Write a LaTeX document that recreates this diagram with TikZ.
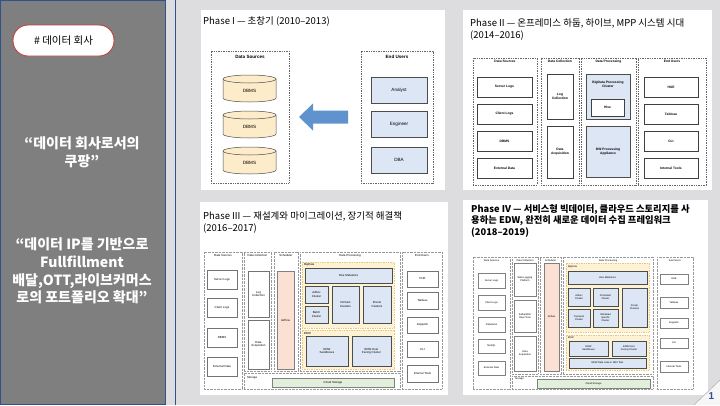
\documentclass[tikz,border=0pt]{standalone}
\usepackage{fontspec}
\setmainfont{Liberation Sans}
\newfontfamily\kr{Noto Sans CJK KR}

\definecolor{slidegrey}{RGB}{127,127,127}
\definecolor{pagebg}{RGB}{221,220,222}
\definecolor{navy}{RGB}{47,82,143}
\definecolor{pillred}{RGB}{192,64,64}
\definecolor{dbtan}{RGB}{253,236,202}
\definecolor{userblue}{RGB}{220,230,244}
\definecolor{arrowblue}{RGB}{96,146,206}
\definecolor{airsalmon}{RGB}{251,225,212}
\definecolor{zoneyellow}{RGB}{253,243,212}
\definecolor{zoneedge}{RGB}{232,200,120}
\definecolor{cloudgreen}{RGB}{226,239,218}

% box from corner (#2,#3) to corner (#4,#5)
\newcommand{\blk}[7]{\node[#6, minimum width={(#4-#2)*1pt}, minimum height={(#5-#3)*1pt}] (#1) at ({(#2+#4)/2},{(#3+#5)/2}) {#7};}

\tikzset{
  lbl/.style={inner sep=0pt, outer sep=0pt, align=center},
  grp/.style={lbl, draw=black!60, line width=0.5pt, dash pattern=on 1pt off 0.7pt},
  grpl/.style={lbl, draw=black!40, line width=0.45pt, dash pattern=on 0.8pt off 0.6pt},
  wbox/.style={lbl, draw=black!70, line width=0.6pt, fill=white},
  ubox/.style={lbl, draw=black!70, line width=0.5pt, fill=userblue},
  abox/.style={lbl, draw=black!50, line width=0.4pt, fill=airsalmon},
  zone/.style={lbl, draw=zoneedge, line width=0.5pt, dash pattern=on 1pt off 0.7pt, fill=zoneyellow},
  gbox/.style={lbl, draw=black!50, line width=0.4pt, fill=cloudgreen},
  ttl/.style={inner sep=0pt, anchor=north west, align=left, font=\kr\fontsize{9.5}{12}\selectfont},
  quote/.style={inner sep=0pt, align=center, text=white, font=\kr\bfseries\fontsize{14}{17.6}\selectfont},
}

\begin{document}
\begin{tikzpicture}[x=1pt, y=-1pt]
  \useasboundingbox (0,0) rectangle (720,405);
  % slide background
  \fill[pagebg] (0,0) rectangle (720,405);
  \fill[slidegrey] (0,0) rectangle (165,405);
  \draw[navy, line width=0.8pt] (0.4,0.4) rectangle (165,404.6);
  \draw[navy, line width=0.8pt] (175,0) -- (175,405);

  % left column
  \node[lbl, draw=pillred, line width=0.9pt, fill=white, rounded corners=15pt,
        minimum width=101pt, minimum height=31pt, font=\kr\fontsize{10.5}{12}\selectfont]
        (tag) at (63.5,40.5) {\# 데이터 회사};
  \node[quote] (q1) at (82,152) {“데이터 회사로서의\\쿠팡”};
  \node[quote] (q2) at (82,271) {“데이터 IP를 기반으로\\Fullfillment\\배달,OTT,라이브커머스\\로의 포트폴리오 확대”};

  % white sheets
  \fill[white] (201,10) rectangle (445,190);
  \fill[white] (463,10) rectangle (712,190);
  \fill[white] (200,202) rectangle (448,395);
  \fill[white] (463,200) rectangle (708,395);

  % ---- Phase I
  \node[ttl] (t1) at (203,16.5) {Phase I — 초창기 (2010–2013)};
  \begin{scope}[font=\fontsize{4.6}{5.4}\selectfont]
    \blk{src1}{211}{51}{289}{183}{grp}{}
    \blk{usr1}{361}{51}{433}{183}{grp}{}
    \node[lbl, font=\bfseries\fontsize{4.6}{5.4}\selectfont, below=4pt] (src1h) at (src1.north) {Data Sources};
    \node[lbl, font=\bfseries\fontsize{4.6}{5.4}\selectfont, below=4pt] (usr1h) at (usr1.north) {End Users};
    \foreach \n/\y in {1/75,2/111,3/147}{
      \filldraw[fill=dbtan, draw=black!70, line width=0.5pt] (223,\y+4) -- (223,\y+23)
        arc[start angle=180, end angle=0, x radius=26.5, y radius=4] -- (276,\y+4)
        arc[start angle=0, end angle=-180, x radius=26.5, y radius=4] -- cycle;
      \draw[black!70, line width=0.5pt] (223,\y+4) arc[start angle=180, end angle=0, x radius=26.5, y radius=4];
      \node[lbl] (db\n) at (249.5,\y+16) {DBMS};
    }
    \blk{analyst}{371}{77}{427}{103}{ubox}{Analyst}
    \blk{engineer}{371}{111}{427}{137}{ubox}{Engineer}
    \blk{dba}{371}{147}{427}{173}{ubox}{DBA}
  \end{scope}
  % big arrow towards the sources
  \fill[arrowblue] (299,117) -- (313,103.5) -- (313,110.5) -- (348,110.5) -- (348,123.5)
    -- (313,123.5) -- (313,130.5) -- cycle;

  % ---- Phase II
  \node[ttl] (t2) at (470,18.5) {Phase II — 온프레미스 하둡, 하이브, MPP 시스템 시대\\(2014–2016)};
  \begin{scope}[font=\fontsize{3.3}{3.9}\selectfont, wbox/.append style={line width=0.8pt, draw=black!75}]
    \blk{src2}{473}{58}{537}{185}{grp}{}
    \blk{col2}{541}{58}{579}{185}{grp}{}
    \blk{proc2}{581}{58}{636}{185}{grp}{}
    \blk{usr2}{638}{58}{706}{185}{grp}{}
    \node[lbl, font=\bfseries\fontsize{3.3}{3.9}\selectfont, below=2.5pt] (src2h) at (src2.north) {Data Sources};
    \node[lbl, font=\bfseries\fontsize{3.3}{3.9}\selectfont, below=2.5pt] (col2h) at (col2.north) {Data Collection};
    \node[lbl, font=\bfseries\fontsize{3.3}{3.9}\selectfont, below=2.5pt] (proc2h) at (proc2.north) {Data Processing};
    \node[lbl, font=\bfseries\fontsize{3.3}{3.9}\selectfont, below=2.5pt] (usr2h) at (usr2.north) {End Users};
    \blk{srvlog2}{477}{77}{532}{97}{wbox}{\bfseries Server Logs}
    \blk{clilog2}{477}{104}{532}{124}{wbox}{\bfseries Client Logs}
    \blk{dbms2}{477}{131}{532}{151}{wbox}{\bfseries DBMS}
    \blk{ext2}{477}{158}{532}{178}{wbox}{\bfseries External Data}
    \blk{logcol2}{547}{74}{573}{119}{wbox}{\bfseries Log\\\bfseries Collection}
    \blk{acq2}{547}{126}{573}{178}{wbox}{\bfseries Data\\\bfseries Acquisition}
    \blk{bigdata2}{586}{74}{630}{119}{ubox}{}
    \node[lbl, font=\bfseries\fontsize{3.3}{3.9}\selectfont, below=7pt] (bigdata2h) at (bigdata2.north) {BigData Processing\\Cluster};
    \blk{hive2}{591}{99}{624}{116}{wbox}{\bfseries Hive}
    \blk{dw2}{586}{126}{630}{177}{ubox}{\bfseries DW Processing\\\bfseries Appliance}
    \blk{hue2}{644}{77}{698}{97}{wbox}{\bfseries HUE}
    \blk{tab2}{644}{104}{698}{124}{wbox}{\bfseries Tableau}
    \blk{cli2}{644}{131}{698}{151}{wbox}{\bfseries CLI}
    \blk{tools2}{644}{158}{698}{178}{wbox}{\bfseries Internal Tools}
  \end{scope}

  % ---- Phase III
  \node[ttl] (t3) at (203,211) {Phase III — 재설계와 마이그레이션, 장기적 해결책\\(2016–2017)};
  \begin{scope}[font=\fontsize{2.9}{3.4}\selectfont, wbox/.append style={line width=0.45pt, draw=black!55}]
    \blk{src3}{204}{252}{242}{389}{grpl}{}
    \blk{col3}{244}{252}{271}{371}{grpl}{}
    \blk{sch3}{274}{252}{298}{371}{grpl}{}
    \blk{proc3}{300}{252}{400}{371}{grpl}{}
    \blk{stor3}{244}{373}{400}{389}{grpl}{}
    \blk{usr3}{402}{252}{442}{389}{grpl}{}
    \node[lbl, below=2.5pt] (src3h) at (src3.north) {Data Sources};
    \node[lbl, below=2.5pt] (col3h) at (col3.north) {Data Collection};
    \node[lbl, below=2.5pt] (sch3h) at (sch3.north) {Scheduler};
    \node[lbl, below=2.5pt] (proc3h) at (proc3.north) {Data Processing};
    \node[lbl, below=2.5pt] (usr3h) at (usr3.north) {End Users};
    \node[lbl, anchor=west] (stor3h) at (247,378) {Storage};
    \blk{srvlog3}{207}{270}{237}{289}{wbox}{Server Logs}
    \blk{clilog3}{207}{298}{237}{317}{wbox}{Client Logs}
    \blk{dbms3}{207}{328}{237}{347}{wbox}{DBMS}
    \blk{ext3}{207}{357}{237}{376}{wbox}{External Data}
    \blk{logcol3}{248}{271}{269}{317}{wbox}{Log\\Collection}
    \blk{acq3}{248}{320}{269}{369}{wbox}{Data\\Acquisition}
    \blk{air3}{277}{271}{294}{369}{abox}{Airflow}
    \blk{bigdata3}{302}{262}{394}{328}{zone}{}
    \node[lbl, anchor=west] (bigdata3h) at (304,265) {BigData};
    \blk{meta3}{305}{268}{392}{283}{ubox}{Hive Metastore}
    \blk{adhoc3}{305}{286}{328}{303}{ubox}{Adhoc\\Cluster}
    \blk{batch3}{305}{306}{328}{323}{ubox}{Batch\\Cluster}
    \blk{domain3}{332}{286}{359}{323}{ubox}{Domain\\Clusters}
    \blk{presto3}{363}{286}{391}{323}{ubox}{Presto\\Clusters}
    \blk{edw3}{302}{330}{394}{369}{zone}{}
    \node[lbl, anchor=west] (edw3h) at (304,333) {EDW};
    \blk{sand3}{306}{336}{348}{366}{ubox}{EDW\\Sandboxes}
    \blk{facing3}{352}{336}{391}{366}{ubox}{EDW User\\Facing Cluster}
    \blk{cloud3}{272}{378}{394}{387}{gbox}{Cloud Storage}
    \blk{hue3}{407}{271}{438}{287}{wbox}{HUE}
    \blk{tab3}{407}{292}{438}{309}{wbox}{Tableau}
    \blk{zep3}{407}{317}{438}{333}{wbox}{Zeppelin}
    \blk{cli3}{407}{341}{438}{357}{wbox}{CLI}
    \blk{tools3}{407}{365}{438}{382}{wbox}{Internal Tools}
  \end{scope}

  % ---- Phase IV
  \node[ttl, font=\kr\bfseries\fontsize{9.3}{11.2}\selectfont] (t4) at (471,204.5)
    {Phase IV — 서비스형 빅데이터, 클라우드 스토리지를 사\\용하는 EDW, 완전히 새로운 데이터 수집 프레임워크\\(2018–2019)};
  \begin{scope}[font=\fontsize{2.5}{3}\selectfont, wbox/.append style={line width=0.45pt, draw=black!50}]
    \blk{src4}{473}{257}{510}{389}{grpl}{}
    \blk{col4}{512}{257}{538}{374}{grpl}{}
    \blk{sch4}{540}{257}{561}{374}{grpl}{}
    \blk{proc4}{563}{257}{653}{374}{grpl}{}
    \blk{stor4}{512}{376}{653}{389}{grpl}{}
    \blk{usr4}{657}{257}{693}{389}{grpl}{}
    \node[lbl, below=2.5pt] (src4h) at (src4.north) {Data Sources};
    \node[lbl, below=2.5pt] (col4h) at (col4.north) {Data Collection};
    \node[lbl, below=2.5pt] (sch4h) at (sch4.north) {Scheduler};
    \node[lbl, below=2.5pt] (proc4h) at (proc4.north) {Data Processing};
    \node[lbl, below=2.5pt] (usr4h) at (usr4.north) {End Users};
    \node[lbl, anchor=west] (stor4h) at (515,379) {Storage};
    \blk{srvlog4}{478}{273}{505}{288}{wbox}{Server Logs}
    \blk{clilog4}{478}{295}{505}{310}{wbox}{Client Logs}
    \blk{rel4}{478}{317}{505}{332}{wbox}{Relational}
    \blk{nosql4}{478}{339}{505}{353}{wbox}{NoSQL}
    \blk{ext4}{478}{361}{505}{375}{wbox}{External Data}
    \blk{weblog4}{514}{263}{536}{296}{wbox}{Web Logging\\Platform}
    \blk{rt4}{514}{300}{536}{332}{wbox}{Kafka/SDK\\Real-Time}
    \blk{acq4}{514}{336}{536}{371}{wbox}{Data\\Acquisition}
    \blk{air4}{544}{263}{559}{371}{abox}{Airflow}
    \blk{bigdata4}{566}{263}{649}{332}{zone}{}
    \node[lbl, anchor=west] (bigdata4h) at (568,266.5) {BigData};
    \blk{meta4}{568}{271}{647}{284}{ubox}{Hive Metastore}
    \blk{adhoc4}{568}{288}{590}{306}{ubox}{Adhoc\\Cluster}
    \blk{trans4}{568}{309}{590}{327}{ubox}{Transient\\Cluster}
    \blk{pers4}{593}{288}{618}{306}{ubox}{Persistent\\Cluster}
    \blk{work4}{593}{309}{618}{327}{ubox}{Workload\\specific\\Cluster}
    \blk{presto4}{622}{288}{647}{327}{ubox}{Presto\\Clusters}
    \blk{edw4}{566}{335}{649}{370}{zone}{}
    \node[lbl, anchor=west] (edw4h) at (568,338) {EDW};
    \blk{sand4}{569}{341}{608}{356}{ubox}{EDW\\Sandboxes}
    \blk{facing4}{612}{341}{646}{356}{ubox}{EDW User\\Facing Cluster}
    \blk{lake4}{569}{358}{646}{368}{ubox}{EDW Data Lake in ORC files}
    \blk{cloud4}{537}{379}{650}{388}{gbox}{Cloud Storage}
    \blk{hue4}{660}{274}{688}{284}{wbox}{HUE}
    \blk{tab4}{660}{297}{688}{308}{wbox}{Tableau}
    \blk{zep4}{660}{318}{688}{328}{wbox}{Zeppelin}
    \blk{cli4}{660}{338}{688}{348}{wbox}{CLI}
    \blk{tools4}{660}{361}{688}{372}{wbox}{Internal Tools}
  \end{scope}

  % page corner and number
  \fill[white!75!pagebg] (694,405) -- (720,380) -- (720,405) -- cycle;
  \draw[black!35, line width=0.4pt] (694,405) -- (720,380);
  \node[lbl, text=navy, font=\bfseries\fontsize{10}{10}\selectfont] (pageno) at (711.5,396) {1};
\end{tikzpicture}
\end{document}
